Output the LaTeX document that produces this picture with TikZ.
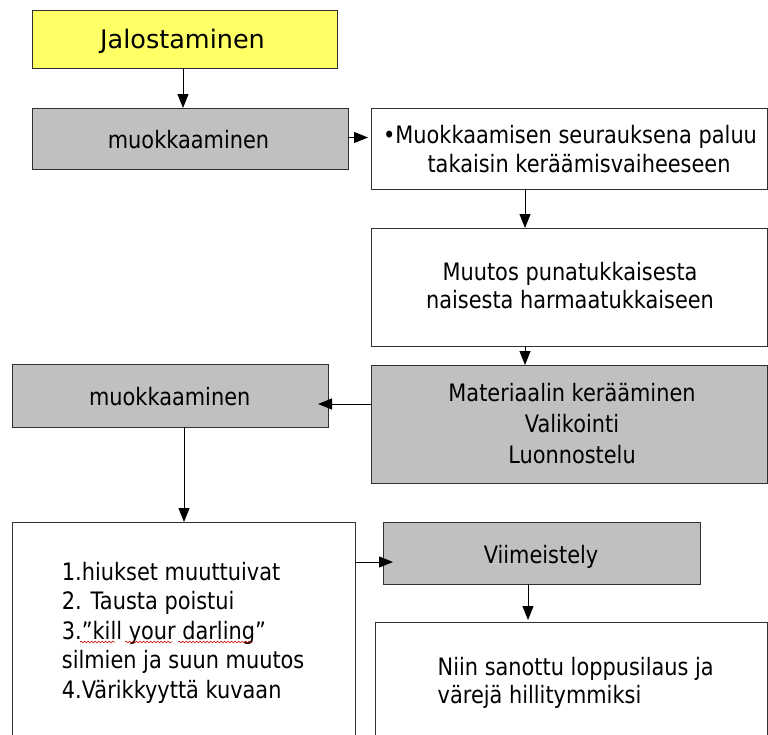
\documentclass[tikz,border=0pt]{standalone}
\usepackage{fontspec}
\setmainfont{DejaVu Sans}[FakeStretch=0.87]
\newfontfamily\titlefont{DejaVu Sans}
\usetikzlibrary{arrows.meta,calc,decorations.pathmorphing}
\definecolor{boxyellow}{HTML}{FFFF66}
\definecolor{boxgray}{HTML}{C0C0C0}
\definecolor{edgecol}{HTML}{303030}
\begin{document}
\begin{tikzpicture}[x=1pt,y=-1pt,
  boxnode/.style={draw=edgecol, line width=1pt, inner sep=0pt, outer sep=0pt, anchor=north west},
  yellowbox/.style={boxnode, fill=boxyellow},
  graybox/.style={boxnode, fill=boxgray},
  whitebox/.style={boxnode, fill=white},
  lbl/.style={inner sep=0pt, anchor=base, font=\fontsize{24}{29.4}\selectfont},
  arr/.style={-{Triangle[length=14pt,width=11pt]}, line width=1pt, draw=black},
  squiggle/.style={draw=red!80!black, line width=0.6pt, decorate, decoration={snake, amplitude=0.8pt, segment length=3.5pt}}]
\clip (0,0) rectangle (768,734);
\useasboundingbox (0,0) rectangle (768,734);
\fill[white] (0,0) rectangle (768,734);

% boxes
\node[yellowbox, minimum width=305pt, minimum height=58pt] (b0) at (32,10) {};
\node[graybox, minimum width=316pt, minimum height=61pt] (b1) at (32,108) {};
\node[whitebox, minimum width=396pt, minimum height=81pt] (b2) at (371,108) {};
\node[whitebox, minimum width=396pt, minimum height=118pt] (b3) at (371,228) {};
\node[graybox, minimum width=396pt, minimum height=118pt] (b4) at (371,365) {};
\node[graybox, minimum width=316pt, minimum height=63pt] (b5) at (12,364) {};
\node[whitebox, minimum width=343pt, minimum height=230pt] (b6) at (12,522) {};
\node[graybox, minimum width=317pt, minimum height=62pt] (b7) at (383,522) {};
\node[whitebox, minimum width=392pt, minimum height=130pt] (b8) at (375,622) {};

% texts (multi-line nodes: base anchor is the last line's baseline)
\node[inner sep=0pt, anchor=base, font=\titlefont\fontsize{25.5}{30}\selectfont] (t0) at (182.5,48) {Jalostaminen};
\node[lbl] (t1) at (188.5,148) {muokkaaminen};
\node[lbl, align=center] (t2) at (570,172.7) {•Muokkaamisen seurauksena paluu\\\hspace*{18pt}takaisin keräämisvaiheeseen};
\node[lbl, align=center, font=\fontsize{24}{28}\selectfont] (t3) at (570,308) {Muutos punatukkaisesta\\naisesta harmaatukkaiseen};
\node[lbl, align=center, font=\fontsize{24}{30.8}\selectfont] (t4) at (572,463.3) {Materiaalin kerääminen\\Valikointi\\Luonnostelu};
\node[lbl] (t5) at (169.7,405) {muokkaaminen};
\node[lbl, anchor=base west, align=left, font=\fontsize{24}{29.5}\selectfont] (t6) at (61.7,698) {1.hiukset muuttuivat\\2. Tausta poistui\\3.”kill your darling”\\silmien ja suun muutos\\4.Värikkyyttä kuvaan};
\node[lbl] (t7) at (541,563.3) {Viimeistely};
\node[lbl, anchor=base west, align=left, font=\fontsize{24}{28.3}\selectfont] (t8) at (437.5,703.3) {Niin sanottu loppusilaus ja\\värejä hillitymmiksi};

% spell-check underline
\draw[squiggle] (80,642) -- (115,642);
\draw[squiggle] (125,642) -- (172,642);
\draw[squiggle] (178,642) -- (252,642);

% connectors
\draw[arr] ($(b0.south)+(-1.5,0)$) -- ($(b1.north west)+(151,0)$);
\draw[arr, shorten >=3pt] ($(b1.east)+(0,-1)$) -- ($(b1.east -| b2.west)+(0,-1)$);
\draw[arr] ($(b2.south west)+(154,0)$) -- ($(b3.north west)+(154,0)$);
\draw[arr] ($(b3.south west)+(154,0)$) -- ($(b4.north west)+(154,0)$);
\draw[arr] ($(b4.west)+(0,-20)$) -- ($(b5.east)+(-10,8.5)$);
\draw[arr] ($(b5.south west)+(172,0)$) -- ($(b6.north west)+(172,0)$);
\draw[arr] ($(b6.north east)+(0,40)$) -- ($(b7.north west)+(10,40)$);
\draw[arr] ($(b7.south west)+(145,0)$) -- ($(b8.north west)+(153,-2)$);
\end{tikzpicture}
\end{document}
